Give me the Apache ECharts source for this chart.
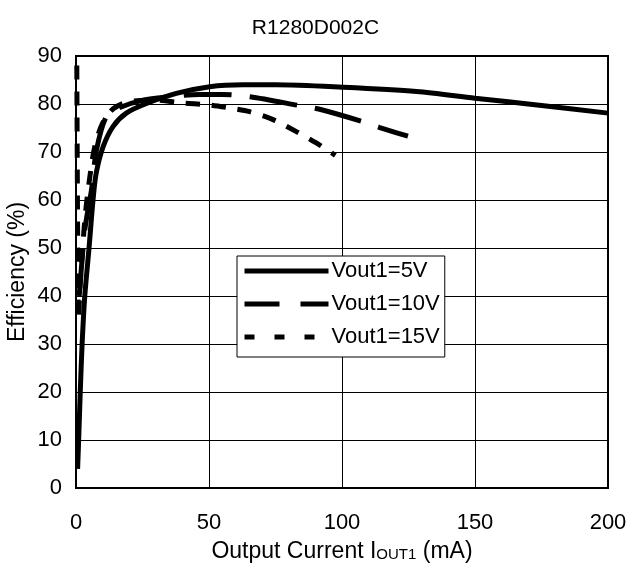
<!DOCTYPE html>
<html>
<head>
<meta charset="utf-8">
<script src="https://cdn.jsdelivr.net/npm/echarts@6/dist/echarts.min.js"></script>
<style>html,body{margin:0;padding:0;background:#fff}#c{width:631px;height:563px}</style>
</head>
<body>
<div id="c"></div>
<script>
var titleText = 'R1280D002C';
var xTicks = [0, 50, 100, 150, 200];
var yTicks = [0, 10, 20, 30, 40, 50, 60, 70, 80, 90];
var seriesNames = ['Vout1=5V', 'Vout1=10V', 'Vout1=15V'];
var v5 = [[0.6,4],[1.0,10],[1.6,20],[2.3,30],[3.3,40],[4.9,50],[6.4,60],[7.6,65.6],[10.2,71.1],[13.9,75.3],[18.9,78.1],[26.5,80.1],[37.7,82.2],[50.3,83.6],[62.7,84],[75,84],[100,83.5],[128,82.6],[150,81.2],[175,79.7],[200,78.1]];
var v10 = [[1.2,40],[2.2,47],[3.3,53.7],[4.5,58],[5.8,62],[7.7,70.4],[11.4,77.4],[15.8,79.1],[25.2,80.8],[35.2,81.5],[46.5,82],[55,82],[65.4,81.5],[84.7,79.6],[91.6,78.9],[107.9,76.3],[114.2,75.1],[124.8,73.3]];
var v15 = [[0.3,88],[0.5,65],[0.7,45],[0.9,35],[1.5,42],[2.5,50],[3.5,57],[5,64],[7,71],[10,76],[14,79],[20,80.5],[30,80.8],[40,80.2],[50,79.8],[58.5,79.1],[65.3,78.4],[74.3,76.7],[83,74.2],[90,72],[97.5,69.3]];

var FONT = 'Liberation Sans, Arial, sans-serif';
var chart = echarts.init(document.getElementById('c'));
chart.setOption({
  animation: false,
  backgroundColor: '#fff',
  title: {
    text: titleText, left: 'center', top: 13,
    textStyle: {fontFamily: FONT, fontSize: 21, fontWeight: 'normal', color: '#000'}
  },
  grid: {left: 76, right: 23, top: 56, bottom: 75, outerBoundsMode: 'none', containLabel: false, show: true, borderColor: '#000', borderWidth: 2, backgroundColor: 'transparent'},
  legend: {
    left: 237, top: 256, orient: 'vertical',
    itemWidth: 84, itemHeight: 14, itemGap: 11,
    padding: [4, 5, 9, 5],
    borderColor: '#000', borderWidth: 1, backgroundColor: '#fff',
    itemStyle: {opacity: 0},
    textStyle: {fontFamily: FONT, fontSize: 22, color: '#000', padding: [0,0,0,-2]},
    data: [
      {name: seriesNames[0], itemStyle: {opacity: 0}, lineStyle: {width: 5, type: 'solid', color: '#000'}},
      {name: seriesNames[1], itemStyle: {opacity: 0}, lineStyle: {width: 5, type: [35, 21], color: '#000'}},
      {name: seriesNames[2], itemStyle: {opacity: 0}, lineStyle: {width: 5, type: [10, 20], color: '#000'}}
    ]
  },
  xAxis: {
    type: 'value', min: 0, max: 200, interval: 50,
    name: '{a|Output Current I}{s|OUT1}{a| (mA)}', nameLocation: 'middle', nameGap: 52,
    nameTextStyle: {rich: {a: {fontFamily: FONT, fontSize: 23, color: '#000'}, s: {fontFamily: FONT, fontSize: 15, color: '#000', padding: [7,0,0,0]}}},
    axisLine: {show: false}, axisTick: {show: false},
    axisLabel: {fontFamily: FONT, fontSize: 22, color: '#000', margin: 24},
    splitLine: {show: true, lineStyle: {color: '#000', width: 1}}
  },
  yAxis: {
    type: 'value', min: 0, max: 90, interval: 10,
    name: 'Efficiency (%)', nameLocation: 'middle', nameGap: 47, nameMoveOverlap: false,
    nameTextStyle: {fontFamily: FONT, fontSize: 23, color: '#000'},
    axisLine: {show: false}, axisTick: {show: false},
    axisLabel: {fontFamily: FONT, fontSize: 22, color: '#000', margin: 14},
    splitLine: {show: true, lineStyle: {color: '#000', width: 1}}
  },
  series: [
    {name: seriesNames[0], type: 'line', data: v5, symbol: 'none', smooth: 0.3, lineStyle: {color: '#000', width: 5, type: 'solid'}, itemStyle: {color: '#000'}},
    {name: seriesNames[1], type: 'line', data: v10, symbol: 'none', smooth: 0.3, lineStyle: {color: '#000', width: 5, type: [48, 18]}, itemStyle: {color: '#000'}},
    {name: seriesNames[2], type: 'line', data: v15, symbol: 'none', smooth: 0.3, lineStyle: {color: '#000', width: 5, type: [14, 12]}, itemStyle: {color: '#000'}}
  ]
});
</script>
</body>
</html>
